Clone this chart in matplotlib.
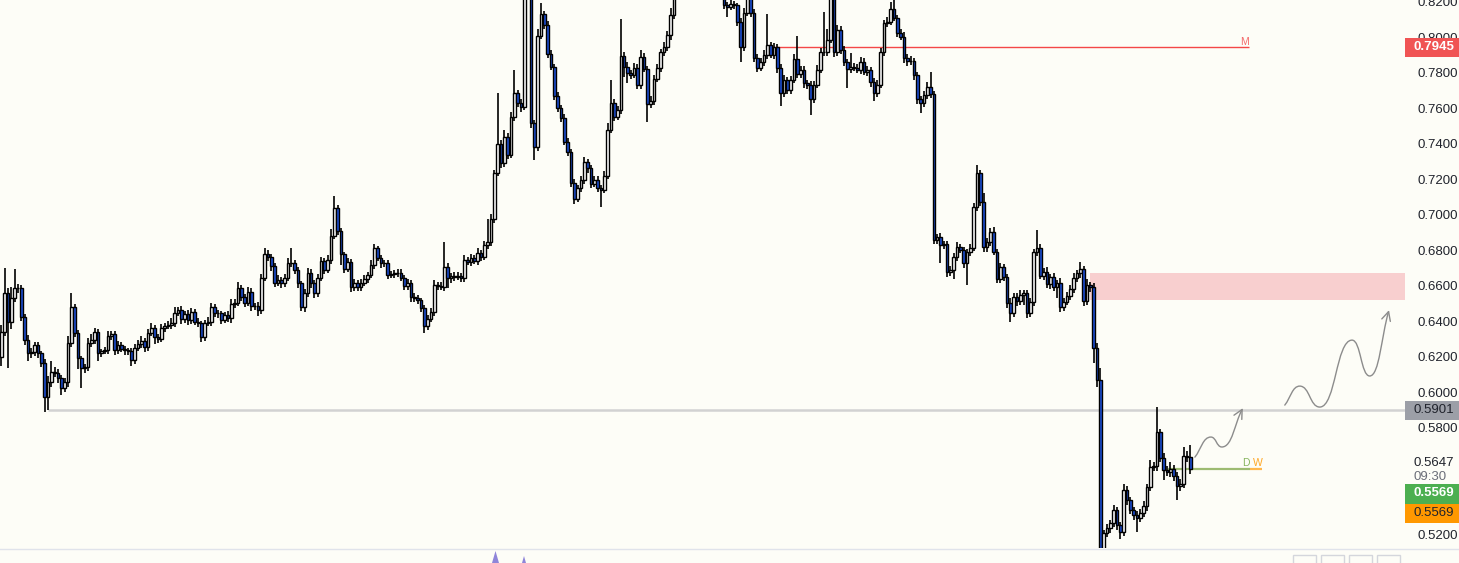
import numpy as np
import matplotlib
matplotlib.use('Agg')
import matplotlib.pyplot as plt
from matplotlib.patches import Rectangle, FancyArrowPatch, Polygon
from matplotlib.lines import Line2D
from matplotlib.path import Path

plt.rcParams['font.family'] = ['Liberation Sans', 'DejaVu Sans']

W, H = 1459, 563
BG = '#fdfdf7'

# ---- candle closes (price) ----
first_open = 0.6200
seg_a = [0.6341, 0.6560, 0.6397, 0.6532, 0.6588, 0.6588, 0.6425, 0.6295, 0.6222, 0.6228,
         0.6267, 0.6222, 0.6166, 0.5974, 0.6059, 0.6115, 0.6110, 0.6081, 0.6025, 0.6059,
         0.6279, 0.6481, 0.6335, 0.6194, 0.6138, 0.6143, 0.6279, 0.6295, 0.6341, 0.6222,
         0.6234, 0.6239, 0.6318, 0.6329, 0.6239, 0.6267, 0.6245, 0.6239, 0.6234, 0.6183,
         0.6250, 0.6273, 0.6290, 0.6256, 0.6335, 0.6363, 0.6312, 0.6301, 0.6363, 0.6374,
         0.6380, 0.6391, 0.6448, 0.6464, 0.6414, 0.6442, 0.6408, 0.6453, 0.6397, 0.6391,
         0.6312, 0.6391, 0.6397, 0.6481, 0.6448, 0.6448, 0.6408, 0.6436, 0.6419, 0.6498,
         0.6504, 0.6588]
seg_b = [0.6538, 0.6504, 0.6566, 0.6487, 0.6487, 0.6464, 0.6645, 0.6780, 0.6763, 0.6712,
         0.6617, 0.6633, 0.6617, 0.6645, 0.6729, 0.6729, 0.6690, 0.6617, 0.6481, 0.6560,
         0.6673, 0.6617, 0.6560, 0.6645, 0.6741, 0.6690, 0.6746, 0.6881, 0.7039, 0.6910,
         0.6780, 0.6695, 0.6735, 0.6594, 0.6617, 0.6594, 0.6617, 0.6639, 0.6662, 0.6718,
         0.6814, 0.6757, 0.6729, 0.6729, 0.6662, 0.6667, 0.6673, 0.6673, 0.6645, 0.6600,
         0.6617, 0.6538, 0.6532, 0.6521, 0.6476, 0.6374, 0.6414, 0.6453, 0.6605, 0.6600,
         0.6594, 0.6707, 0.6645, 0.6656, 0.6650, 0.6656, 0.6645, 0.6746, 0.6735, 0.6757,
         0.6741, 0.6786, 0.6763, 0.6831, 0.6848]
seg_c = [0.6977, 0.7236, 0.7400, 0.7293, 0.7439, 0.7338, 0.7552, 0.7687, 0.7631, 0.7608,
         0.8260, 0.8250, 0.7518, 0.7383, 0.8008, 0.8132, 0.8070, 0.7907, 0.7834, 0.7670,
         0.7603, 0.7546, 0.7411, 0.7355, 0.7180, 0.7090, 0.7152, 0.7197, 0.7298, 0.7265,
         0.7174, 0.7197, 0.7152, 0.7141, 0.7219, 0.7479, 0.7631, 0.7552, 0.7591, 0.7896,
         0.7834, 0.7800, 0.7788, 0.7828, 0.7732, 0.7890, 0.7822, 0.7625, 0.7642, 0.7766,
         0.7828, 0.7918, 0.7946, 0.8014, 0.8127, 0.8230]
seg_top = [0.8279, 0.8324, 0.8369, 0.8312, 0.8380, 0.8436, 0.8391, 0.8335, 0.8408, 0.8352,
           0.8296, 0.8324, 0.8267, 0.8245]
seg_d = [0.8183, 0.8172, 0.8188, 0.8183, 0.8087, 0.7946, 0.8138, 0.8222, 0.8138, 0.7884,
         0.7828, 0.7862, 0.7901, 0.7957, 0.7901, 0.7946, 0.7828, 0.7687, 0.7760, 0.7704,
         0.7760, 0.7879, 0.7794, 0.7817, 0.7743, 0.7732, 0.7653, 0.7732, 0.7817, 0.7918,
         0.7918, 0.7986, 0.8228, 0.7918, 0.8042, 0.7929, 0.7862, 0.7822, 0.7834, 0.7828,
         0.7817, 0.7862, 0.7805, 0.7817, 0.7749, 0.7687, 0.7732, 0.7918, 0.8081, 0.8087,
         0.8160, 0.8110, 0.8025, 0.8003, 0.7884, 0.7867, 0.7867, 0.7788, 0.7653, 0.7631,
         0.7676, 0.7721, 0.7681]
seg_e = [0.6859, 0.6876, 0.6831, 0.6836, 0.6679, 0.6690, 0.6763, 0.6819, 0.6803, 0.6729,
         0.6791, 0.6814, 0.7045, 0.7236, 0.7073, 0.6819, 0.6848, 0.6904, 0.6791, 0.6639,
         0.6707, 0.6650, 0.6504, 0.6448, 0.6538, 0.6515, 0.6549, 0.6560, 0.6448, 0.6510,
         0.6791, 0.6814, 0.6656, 0.6679, 0.6611, 0.6650, 0.6594, 0.6617, 0.6481, 0.6510,
         0.6543, 0.6583, 0.6645, 0.6673, 0.6695, 0.6515, 0.6605, 0.6594, 0.6250, 0.6070,
         0.5112]
seg_f = [0.5208, 0.5236, 0.5264, 0.5338, 0.5253, 0.5214, 0.5450, 0.5394, 0.5338, 0.5310,
         0.5293, 0.5321, 0.5360, 0.5467, 0.5580, 0.5586, 0.5777, 0.5631, 0.5563, 0.5552,
         0.5569, 0.5529, 0.5473, 0.5484, 0.5642, 0.5636, 0.5569]

# ---- wick lengths in pips (upper / lower) ----
up_a = [40, 140, 30, 60, 110, 25, 20, 15, 30, 25, 20, 15, 10, 20, 35, 60, 30, 25, 15, 20,
        40, 80, 20, 15, 10, 20, 30, 35, 25, 15, 10, 20, 30, 20, 15, 25, 20, 15, 10, 15,
        25, 20, 30, 15, 25, 30, 15, 20, 25, 15, 20, 30, 35, 20, 25, 15, 20, 25, 15, 20,
        10, 20, 30, 25, 20, 15, 10, 20, 25, 30, 20, 35]
lo_a = [50, 20, 260, 40, 20, 25, 20, 30, 45, 25, 20, 30, 25, 84, 73, 30, 20, 25, 40, 20,
        30, 20, 25, 60, 112, 30, 20, 25, 20, 45, 20, 15, 20, 25, 30, 20, 15, 25, 20, 35,
        20, 15, 20, 30, 20, 15, 40, 20, 15, 20, 15, 20, 20, 15, 30, 20, 25, 20, 15, 20,
        30, 20, 15, 20, 25, 30, 20, 15, 20, 25, 20, 15]
up_b = [20, 15, 30, 20, 15, 20, 25, 34, 20, 15, 20, 30, 15, 25, 30, 84, 20, 15, 10, 25,
        30, 20, 15, 25, 20, 15, 30, 40, 67, 20, 15, 10, 25, 15, 20, 15, 20, 25, 15, 30,
        20, 10, 15, 20, 15, 20, 15, 25, 20, 15, 20, 15, 20, 15, 10, 15, 20, 25, 30, 20,
        25, 140, 20, 15, 20, 25, 15, 30, 20, 25, 20, 30, 15, 25, 130]
lo_b = [25, 20, 15, 30, 20, 35, 20, 15, 20, 25, 20, 15, 30, 20, 15, 20, 25, 30, 20, 25,
        20, 30, 25, 20, 15, 20, 15, 20, 15, 25, 60, 20, 15, 30, 20, 25, 20, 15, 20, 15,
        20, 15, 30, 20, 25, 15, 20, 20, 15, 25, 20, 30, 25, 20, 25, 40, 20, 15, 20, 25,
        15, 20, 56, 30, 20, 15, 25, 20, 15, 20, 15, 25, 20, 15, 20]
up_c = [30, 20, 285, 20, 40, 20, 30, 130, 15, 20, 80, 40, 20, 15, 40, 60, 15, 20, 25, 15,
        20, 15, 25, 20, 15, 20, 15, 25, 30, 20, 15, 25, 20, 15, 30, 40, 130, 20, 25, 208,
        20, 25, 15, 30, 20, 40, 25, 20, 30, 25, 20, 15, 30, 25, 40, 60]
lo_c = [20, 25, 15, 30, 20, 25, 15, 20, 25, 30, 15, 20, 30, 73, 20, 15, 25, 20, 15, 20,
        25, 20, 15, 25, 20, 28, 15, 20, 25, 30, 20, 15, 25, 95, 20, 15, 20, 25, 15, 20,
        56, 56, 20, 15, 25, 20, 15, 100, 20, 25, 15, 20, 25, 20, 30, 25]
up_top = [20, 20, 20, 20, 20, 20, 20, 20, 20, 20, 20, 20, 20, 20]
lo_top = [5, 20, 20, 20, 20, 20, 20, 20, 20, 20, 20, 20, 20, 10]
up_d = [20, 15, 25, 20, 10, 20, 30, 20, 15, 20, 20, 25, 30, 175, 20, 25, 15, 20, 30, 20,
        25, 30, 130, 20, 25, 15, 20, 25, 30, 20, 225, 60, 40, 15, 30, 20, 25, 15, 80, 20,
        25, 30, 20, 25, 15, 20, 30, 25, 20, 30, 40, 60, 15, 20, 25, 20, 30, 20, 15, 20,
        25, 30, 84]
lo_d = [20, 56, 15, 20, 25, 84, 20, 15, 20, 25, 20, 15, 25, 20, 15, 20, 30, 73, 20, 25,
        20, 15, 25, 20, 30, 25, 90, 20, 15, 20, 25, 20, 15, 30, 20, 25, 20, 107, 20, 15,
        20, 25, 15, 20, 30, 45, 20, 15, 25, 20, 15, 20, 25, 20, 30, 25, 20, 25, 30, 56,
        20, 25, 20]
up_e = [20, 15, 25, 20, 15, 25, 20, 30, 20, 15, 20, 25, 20, 45, 20, 50, 20, 25, 30, 20,
        25, 15, 20, 30, 20, 25, 30, 20, 15, 25, 20, 100, 20, 25, 30, 20, 25, 15, 30, 20,
        25, 20, 30, 15, 40, 20, 35, 20, 25, 30, 67]
lo_e = [25, 20, 100, 25, 30, 20, 50, 20, 15, 25, 124, 20, 15, 25, 20, 30, 25, 20, 15, 20,
        25, 20, 30, 50, 20, 25, 20, 56, 30, 20, 25, 20, 15, 20, 25, 30, 20, 62, 25, 20,
        15, 20, 25, 20, 30, 25, 20, 30, 84, 40, 0]
up_f = [20, 25, 20, 30, 15, 20, 34, 25, 20, 15, 20, 25, 30, 20, 40, 25, 140, 20, 30, 25,
        40, 20, 25, 30, 50, 30, 67]
lo_f = [30, 20, 25, 20, 30, 40, 20, 25, 20, 30, 78, 25, 20, 25, 20, 25, 30, 20, 56, 25,
        30, 25, 78, 30, 20, 25, 30]

# ---- drawings on the chart ----
level_m = 0.7945
level_low = 0.5901
zone_top, zone_bottom = 0.6674, 0.6521
last_price = 0.5569
countdown_price = '0.5647'
countdown_time = '09:30'
wave1_x = [358.4, 363.2, 366.5, 372.8]
wave1_y = [0.5636, 0.5749, 0.5693, 0.5912]
wave2_x = [385.4, 389.9, 395.9, 405.6, 410.9, 416.7]
wave2_y = [0.5929, 0.6036, 0.5918, 0.6295, 0.6093, 0.6464]
price_ticks = [0.52, 0.58, 0.60, 0.62, 0.64, 0.66, 0.68, 0.70, 0.72, 0.74, 0.76, 0.78, 0.80, 0.82]

closes = np.array(seg_a + seg_b + seg_c + seg_top + seg_d + seg_e + seg_f)
upper = np.array(up_a + up_b + up_c + up_top + up_d + up_e + up_f) / 10000
lower = np.array(lo_a + lo_b + lo_c + lo_top + lo_d + lo_e + lo_f) / 10000
opens = np.concatenate([[first_open], closes[:-1]])
highs = np.maximum(opens, closes) + upper
lows = np.minimum(opens, closes) - lower
idx = np.arange(len(closes))
rising = closes >= opens

fig = plt.figure(figsize=(W / 100, H / 100), dpi=100, facecolor=BG)
ax = fig.add_axes([0, 15 / H, 1405 / W, 548 / H], facecolor=BG)
ax.set_xlim(-0.45, 421.5)
ax.set_ylim(0.5124, 0.8211)

# zone and levels
ax.add_patch(Rectangle((327, zone_bottom), 200, zone_top - zone_bottom,
                       facecolor='#f8cfcf', edgecolor='none', zorder=1))
ax.hlines(level_low, 14, 430, color='#d2d2d2', lw=1.8, zorder=1)
ax.hlines(level_m, 231, 374.6, color='#f44747', lw=1, zorder=2)
ax.text(373.4, level_m + 0.0004, 'M', color='#f46a6a', fontsize=7.5, ha='center', va='bottom')
ax.hlines(last_price, 350.3, 374.9, color='#9dbb72', lw=1.6, zorder=2)
ax.hlines(last_price, 374.9, 378.5, color='#ffb74d', lw=1.6, zorder=2)
ax.text(373.6, last_price + 0.0006, 'D', color='#86b45e', fontsize=7.5, ha='center', va='bottom')
ax.text(377.3, last_price + 0.0006, 'W', color='#ffa726', fontsize=7.5, ha='center', va='bottom')

# candles
ax.vlines(idx, lows, highs, color='black', lw=1.2, zorder=3)
ax.bar(idx, closes - opens, bottom=opens, width=0.8,
       color=np.where(rising, '#ffffff', '#1c4fd6'), edgecolor='black', linewidth=1.0, zorder=4)


def wave_path(xs, ys):
    verts = [(xs[0], ys[0])]
    codes = [Path.MOVETO]
    n = len(xs)
    for k in range(n - 1):
        x0, y0, x1, y1 = xs[k], ys[k], xs[k + 1], ys[k + 1]
        dx = x1 - x0
        if k == 0:
            c1 = (x0 + 0.4 * dx, y0 + 0.4 * (y1 - y0))
        else:
            c1 = (x0 + 0.5 * dx, y0)
        if k == n - 2:
            c2 = (x1 - 0.4 * dx, y1 - 0.4 * (y1 - y0))
        else:
            c2 = (x1 - 0.5 * dx, y1)
        verts += [c1, c2, (x1, y1)]
        codes += [Path.CURVE4] * 3
    return Path(verts, codes)


for wx, wy in [(wave1_x, wave1_y), (wave2_x, wave2_y)]:
    ax.add_patch(FancyArrowPatch(path=wave_path(wx, wy), arrowstyle='->', mutation_scale=16,
                                 color='#8c8c8c', lw=1, zorder=6))

# price scale
ax.yaxis.tick_right()
ax.set_yticks(price_ticks)
ax.set_yticklabels([f'{t:.4f}' for t in price_ticks])
ax.tick_params(axis='y', length=0, pad=9, labelsize=9.5, labelcolor='#20232c')
ax.set_xticks([])
for s in ax.spines.values():
    s.set_visible(False)

fig.canvas.draw()


def py(price):
    return H - ax.transData.transform((0, price))[1]


def box(y0, y1, color):
    fig.add_artist(Rectangle((1405 / W, 1 - y1 / H), 54 / W, (y1 - y0) / H,
                             transform=fig.transFigure, facecolor=color, edgecolor='none', zorder=5))


def label(y, s, color, **kw):
    fig.text(1414 / W, 1 - y / H, s, color=color, fontsize=9.5, ha='left', va='center', zorder=6, **kw)


ym = py(level_m)
box(ym - 9.5, ym + 9.5, '#f05454')
label(ym, f'{level_m:.4f}', 'white', fontweight='bold')
yl = py(level_low)
box(yl - 9.5, yl + 9.5, '#9c9fa7')
label(yl, f'{level_low:.4f}', '#20232c')
label(463, countdown_price, '#20232c')
label(477, countdown_time, '#6b6e78')
box(484, 503.5, '#4caf50')
label(493.5, f'{last_price:.4f}', 'white', fontweight='bold')
box(503.5, 523, '#ff9800')
label(513, f'{last_price:.4f}', '#20232c')

# bottom strip
fig.add_artist(Line2D([0, 1], [1 - 548.5 / H] * 2, transform=fig.transFigure, color='#e0e3eb', lw=1))
for pts, col in [([(492, 563), (495.5, 551), (499, 563)], '#8f85d9'),
                 ([(522, 563), (524, 556), (526, 563)], '#8f85d9')]:
    fig.add_artist(Polygon([(x / W, 1 - y / H) for x, y in pts], closed=True,
                           transform=fig.transFigure, facecolor=col, edgecolor='none'))
for bx in [1293, 1321, 1349, 1377]:
    fig.add_artist(Rectangle((bx / W, 1 - 575 / H), 23 / W, 20 / H, transform=fig.transFigure,
                             facecolor=BG, edgecolor='#d4d6dc', lw=1))

fig.savefig('out.png', dpi=100, facecolor=BG)
